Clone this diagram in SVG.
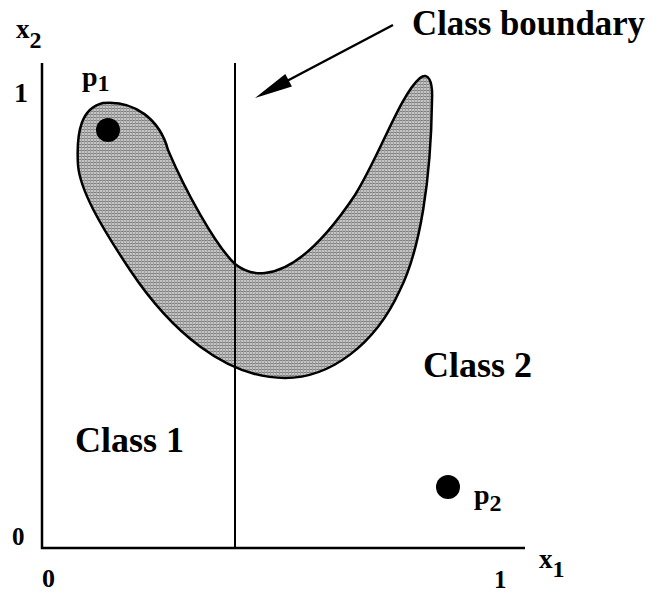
<svg xmlns="http://www.w3.org/2000/svg" width="652" height="594" viewBox="0 0 652 594">
<style>
.t{font-family:"Liberation Serif","Times New Roman",serif;font-weight:bold;fill:#000}
.s{font-size:24px}
.ax{stroke:#000;stroke-width:2.5;fill:none}
</style>
<defs>
<pattern id="ht" width="3" height="3" patternUnits="userSpaceOnUse">
<rect width="3" height="3" fill="#c4c4c4"/>
<rect width="3" height="1" fill="#808080"/>
<rect width="1" height="3" fill="#a0a0a0"/>
</pattern>
</defs>
<rect width="652" height="594" fill="#fff"/>
<g id="region">
<path d="M103,103 C135,100 160,120 168,150 C185,190 215,245 235,264 C245,272 255,274 265,273 C295,270 325,240 355,195 C380,155 400,95 420,78 C428,72 433,80 432,100 C431,180 420,250 400,290 C375,345 330,378 285,378 C225,378 170,330 130,270 C100,225 80,190 78,165 C76,130 82,108 103,103 Z" fill="url(#ht)" stroke="#000" stroke-width="2.5"/>
</g>
<g id="axes">
<path class="ax" d="M42,63 V548 H525"/>
<text class="t" x="16" y="38" font-size="27">x<tspan class="s" dy="10">2</tspan></text>
<text class="t" x="539" y="568" font-size="27">x<tspan class="s" dy="9">1</tspan></text>
<text class="t" x="14" y="102" font-size="28">1</text>
<text class="t" x="12" y="545" font-size="25">0</text>
<text class="t" x="42" y="587" font-size="26">0</text>
<text class="t" x="494" y="588" font-size="25">1</text>
</g>
<g id="boundary">
<line x1="235" y1="63" x2="235" y2="548" stroke="#000" stroke-width="2"/>
</g>
<g id="connectors">
<line x1="393" y1="25" x2="285" y2="82" stroke="#000" stroke-width="2.5"/>
<polygon points="255,98 291.9,86.4 285.3,74" fill="#000"/>
</g>
<g id="label-boundary"><text class="t" x="412" y="35" font-size="35" textLength="233" lengthAdjust="spacingAndGlyphs">Class  boundary</text></g>
<g id="class1"><text class="t" x="75" y="452" font-size="36">Class 1</text></g>
<g id="class2"><text class="t" x="423" y="377" font-size="36">Class 2</text></g>
<g id="p1">
<circle cx="108" cy="130" r="12" fill="#000"/>
<text class="t" x="82" y="86" font-size="28">p<tspan class="s" dy="5">1</tspan></text>
</g>
<g id="p2">
<circle cx="448" cy="487" r="12" fill="#000"/>
<text class="t" x="474" y="504" font-size="28">p<tspan class="s" dy="7">2</tspan></text>
</g>
</svg>
